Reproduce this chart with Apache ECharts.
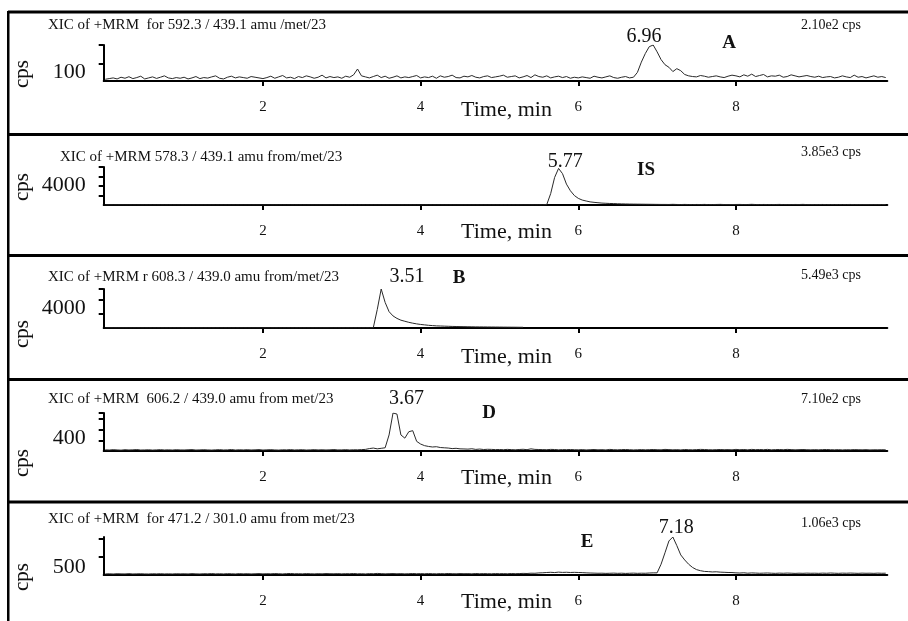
<!DOCTYPE html>
<html>
<head>
<meta charset="utf-8">
<script src="https://cdn.jsdelivr.net/npm/echarts@6/dist/echarts.min.js"></script>
<style>
html,body{margin:0;padding:0;background:#fff;}
#c{width:908px;height:621px;}
</style>
</head>
<body>
<div id="c"></div>
<script>
// ---------------- DATA ----------------
const TIME_START = 0;      // min
const TIME_STEP = 0.05;    // min between samples
const xTickValues = [2, 4, 6, 8];

const panelTitles = [
  'XIC of +MRM  for 592.3 / 439.1 amu /met/23',
  'XIC of +MRM 578.3 / 439.1 amu from/met/23',
  'XIC of +MRM r 608.3 / 439.0 amu from/met/23',
  'XIC of +MRM  606.2 / 439.0 amu from met/23',
  'XIC of +MRM  for 471.2 / 301.0 amu from met/23'
];
const maxCpsLabels = ['2.10e2 cps', '3.85e3 cps', '5.49e3 cps', '7.10e2 cps', '1.06e3 cps'];
const compoundNames = ['A', 'IS', 'B', 'D', 'E'];
const peakTimes = [6.96, 5.77, 3.51, 3.67, 7.18];
const peakHeights = [210, 3850, 5490, 710, 1060];
const yAxisMax = [210, 4000, 5490, 710, 1060];
const yLabelValues = [100, 4000, 4000, 400, 500];
const yTickValues = [
  [100, 210],
  [1000, 2000, 3000, 4000],
  [2000, 4000, 5490],
  [200, 400, 600, 710],
  [500, 1000]
];

// intensities (cps) sampled every TIME_STEP from TIME_START
const seriesA = [
  10,14,18,12,22,16,25,14,20,28,12,18,24,15,22,30,18,14,20,16,
  22,12,18,26,14,20,17,24,30,16,12,22,28,18,24,20,16,26,22,18,
  14,20,28,16,24,32,18,22,14,26,20,30,24,16,22,34,18,26,20,24,
  16,28,22,36,70,30,24,18,26,34,20,28,16,22,30,18,24,20,26,32,
  18,24,20,28,16,30,22,26,34,20,18,28,24,32,22,18,26,30,20,24,
  28,34,22,26,30,18,24,32,20,36,26,22,30,18,24,28,20,26,16,22,
  18,24,20,16,28,22,18,24,30,20,16,22,26,18,22,50,110,160,200,210,
  170,125,95,80,55,72,60,38,30,26,24,32,28,22,26,30,24,20,28,34,
  30,24,36,28,40,26,32,38,24,30,28,34,22,26,36,30,24,28,32,26,
  22,28,20,24,26,18,22,30,24,20,34,22,26,18,24,30,22,26,20
];
const seriesIS = [
  10,12,8,10,14,10,12,9,11,10,13,10,8,12,10,11,9,12,10,10,
  12,10,9,11,10,13,10,12,8,10,11,12,10,9,13,10,11,10,12,10,
  9,11,10,12,10,13,9,10,12,11,10,8,12,10,11,10,13,9,10,12,
  10,11,12,9,10,13,10,11,12,10,9,12,10,11,10,13,10,12,9,11,
  10,12,11,10,13,9,11,10,12,10,11,13,10,9,12,10,11,10,12,13,
  10,12,11,10,9,12,11,10,13,11,12,10,40,1200,2900,3850,3300,2200,1500,1000,
  700,520,420,330,280,240,200,180,160,150,130,120,110,100,95,90,85,80,75,70,
  65,60,60,55,70,55,50,60,50,45,55,50,60,45,50,55,65,50,45,50,
  55,60,45,50,70,50,45,55,50,45,50,60,45,50,45,55,50,65,45,50,
  45,50,55,45,50,45,50,45,50,55,45,50,45,50,45,45,50,45,50
];
const seriesB = [
  15,18,14,16,15,17,14,16,18,15,14,16,15,17,16,14,15,18,16,15,
  16,15,17,14,16,15,18,16,14,15,17,16,15,14,16,18,15,16,14,17,
  15,16,14,17,15,16,18,14,15,16,17,15,14,16,15,17,16,14,15,16,
  17,15,16,14,15,16,18,15,40,2600,5490,3600,2300,1700,1350,1100,950,800,680,580,
  500,440,380,340,300,280,260,240,220,210,200,190,180,170,160,155,150,145,140,135,
  130,125,120,115,110,105,100
];
const seriesD = [
  22,18,25,20,16,24,19,22,27,18,20,23,17,21,25,19,22,18,24,20,
  19,23,26,18,21,24,20,17,22,25,19,21,28,18,23,20,24,19,22,26,
  18,22,25,20,17,23,21,26,19,22,24,18,21,25,20,23,19,22,27,20,
  21,25,19,23,22,26,30,45,55,40,50,60,300,710,690,300,240,360,380,180,
  130,100,85,75,80,65,60,55,45,50,40,38,35,42,30,36,28,32,30,26,
  28,24,30,26,22,28,32,25,40,30,28,26,24,30,28,22,26,25,28,24,
  22,26,20,24,28,22,25,20,30,24,22,26,28,24,20,23,26,22,25,28,
  24,22,30,26,22,25,20,28,24,22,26,30,28,24,22,25,28,24,26,22,
  30,24,28,22,30,25,28,24,30,22,26,28,24,30,26,22,25,28,24,22,
  25,22,26,28,24,22,25,20,24,22,26,24,22,25,20,23,22,24,22
];
const seriesE = [
  30,34,28,36,32,30,38,29,33,35,30,28,34,31,36,30,33,29,35,32,
  34,30,38,32,29,36,33,40,31,35,30,37,34,29,38,32,36,30,34,39,
  31,36,33,40,35,30,38,42,34,36,32,39,35,31,37,33,40,36,34,38,
  32,37,35,41,33,36,30,39,35,44,38,33,37,40,34,38,32,36,41,35,
  38,34,40,36,33,39,35,42,37,34,40,36,38,33,41,35,39,36,34,40,
  36,38,34,41,37,40,45,42,50,48,58,62,70,75,68,80,72,76,70,74,
  70,66,60,55,52,48,50,45,48,52,46,50,44,48,52,46,50,48,55,60,
  60,300,620,950,1060,820,560,420,300,210,150,120,100,95,85,90,80,75,70,68,
  60,55,62,50,58,54,48,52,56,50,46,52,48,54,50,45,50,47,52,48,
  50,46,52,48,55,50,46,52,49,54,50,46,52,48,50,46,52,48,50
];
const allSeries = [seriesA, seriesIS, seriesB, seriesD, seriesE];

// ---------------- LAYOUT / STYLE ----------------
const SERIF = '"Liberation Serif", "Times New Roman", serif';
const X_MIN = -0.02, X_MAX = 9.92;
const GRID_LEFT = 103.7, GRID_RIGHT_EDGE = 887.3;
const axisTop = [45, 167, 289, 413, 537];
const baseline = [81, 205, 328, 451, 575];
const separatorY = [12, 134.5, 255.5, 379.5, 502];
const titleX = [48, 60, 48, 48, 48];
const titleY = [25, 157, 277, 399, 519];
const maxLabelY = [25, 152, 275, 399, 523];
const letterPos = [[729, 43], [646, 170], [459, 278], [489, 413], [587, 542]];
const cpsY = [74, 187, 334, 463, 577];
const peakLabelOffset = [[-10, -8], [5, -7], [25, -12], [12, -14], [5, -9]];
const yLabelDrop = [8, 18, 9, 8.5, 10];
const timeLabelDy = [29, 27, 29, 27, 27];

const grids = [], xAxes = [], yAxes = [], series = [], graphics = [];

for (let p = 0; p < 5; p++) {
  grids.push({
    left: GRID_LEFT, width: GRID_RIGHT_EDGE - GRID_LEFT,
    top: axisTop[p], height: baseline[p] - axisTop[p],
    containLabel: false
  });
  xAxes.push({
    type: 'value', gridIndex: p, min: X_MIN, max: X_MAX,
    axisLine: { show: true, onZero: false, lineStyle: { color: '#000', width: 2 } },
    axisTick: { show: true, customValues: xTickValues, length: 5, lineStyle: { color: '#000', width: 2 } },
    axisLabel: { show: true, customValues: xTickValues, margin: 19, fontFamily: SERIF, fontSize: 15, color: '#111' },
    splitLine: { show: false }
  });
  yAxes.push({
    type: 'value', gridIndex: p, min: 0, max: yAxisMax[p],
    axisLine: { show: true, onZero: false, lineStyle: { color: '#000', width: 2 } },
    axisTick: { show: true, customValues: yTickValues[p], length: 5, lineStyle: { color: '#000', width: 2 } },
    axisLabel: {
      show: true, customValues: [yLabelValues[p]], margin: 18,
      formatter: v => String(v),
      fontFamily: SERIF, fontSize: 22, color: '#111',
      verticalAlign: 'top', lineHeight: 2 * yLabelDrop[p]
    },
    splitLine: { show: false }
  });
  const vals = allSeries[p];
  series.push({
    type: 'line', xAxisIndex: p, yAxisIndex: p,
    data: vals.map((v, i) => [+(TIME_START + i * TIME_STEP).toFixed(2), v]),
    showSymbol: false, symbol: 'none', silent: true, animation: false,
    lineStyle: { color: '#2a2a2a', width: 1 },
    markPoint: {
      symbol: 'circle', symbolSize: 0, silent: true, animation: false,
      data: [{ coord: [peakTimes[p], peakHeights[p]], value: peakTimes[p] }],
      label: {
        show: true, position: 'inside', offset: peakLabelOffset[p],
        formatter: peakTimes[p].toFixed(2),
        fontFamily: SERIF, fontSize: 20, color: '#111'
      }
    }
  });

  graphics.push({ type: 'rect', shape: { x: 8, y: separatorY[p] - 1.5, width: 900, height: 3 }, style: { fill: '#000' }, silent: true });
  graphics.push({ type: 'text', x: titleX[p], y: titleY[p], style: { text: panelTitles[p], font: '15px ' + SERIF, fill: '#111', align: 'left', verticalAlign: 'middle' }, silent: true });
  graphics.push({ type: 'text', x: 801, y: maxLabelY[p], style: { text: maxCpsLabels[p], font: '14px ' + SERIF, fill: '#111', align: 'left', verticalAlign: 'middle' }, silent: true });
  graphics.push({ type: 'text', x: letterPos[p][0], y: letterPos[p][1], style: { text: compoundNames[p], font: 'bold 19px ' + SERIF, fill: '#111', align: 'center', verticalAlign: 'middle' }, silent: true });
  graphics.push({ type: 'text', x: 22, y: cpsY[p], rotation: Math.PI / 2, style: { text: 'cps', font: '21px ' + SERIF, fill: '#111', align: 'center', verticalAlign: 'middle' }, silent: true });
  graphics.push({ type: 'text', x: 461, y: baseline[p] + timeLabelDy[p], style: { text: 'Time, min', font: '22px ' + SERIF, fill: '#111', align: 'left', verticalAlign: 'middle' }, silent: true });
}
graphics.push({ type: 'rect', shape: { x: 7, y: 11, width: 2.5, height: 610 }, style: { fill: '#000' }, silent: true });

const chart = echarts.init(document.getElementById('c'), null, { renderer: 'canvas' });
chart.setOption({
  backgroundColor: '#fff',
  animation: false,
  grid: grids,
  xAxis: xAxes,
  yAxis: yAxes,
  series: series,
  graphic: graphics
});
</script>
</body>
</html>
